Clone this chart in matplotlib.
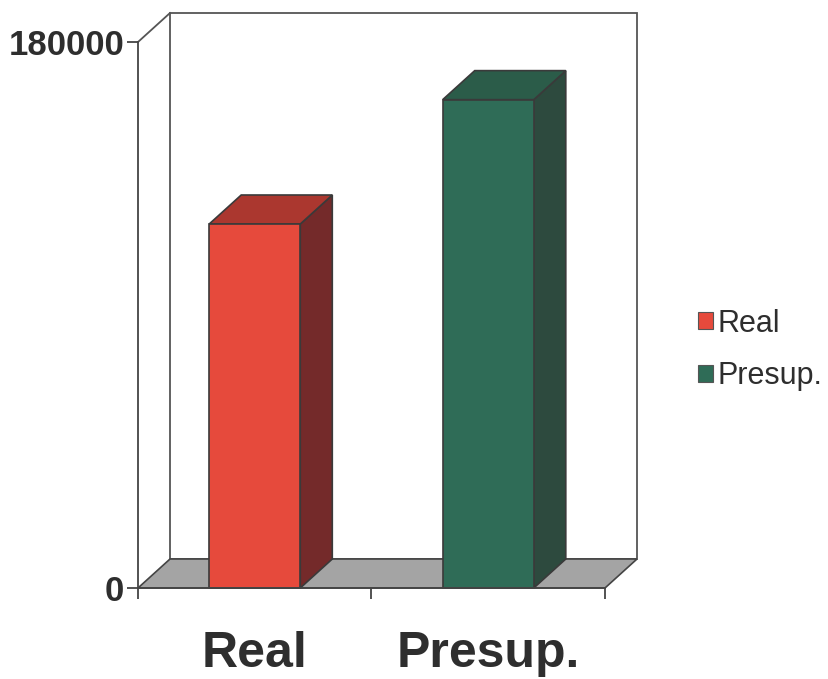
import matplotlib
matplotlib.use("Agg")
import matplotlib.pyplot as plt
from matplotlib.patches import Polygon, Rectangle, Patch

# data
categories = ["Real", "Presup."]
values = [120000, 161000]
y_ticks = [0, 180000]
front_c = ["#e64a3c", "#2f6c57"]
top_c = ["#ab372f", "#2b5c49"]
side_c = ["#742a2a", "#2d4a3e"]

W, H = 829, 679
fig = plt.figure(figsize=(W / 100, H / 100), dpi=100)
fig.patch.set_facecolor("white")
x0, x1, y0, y1 = 138, 605, 42, 588   # front plot box in pixels (from top)
ax = fig.add_axes([x0 / W, 1 - y1 / H, (x1 - x0) / W, (y1 - y0) / H])
ax.set_xlim(0, 2); ax.set_ylim(0, 180000)
ax.patch.set_alpha(0)

# depth offset in data units (32 px right, 29 px up)
DX = 32 * 2 / (x1 - x0)
DY = 29 * 180000 / (y1 - y0)
EC = "#3a3a3a"
FNT = ["Liberation Sans", "DejaVu Sans"]
TXT = "#2e2e2e"

def poly(pts, fc, ec=EC, lw=1.2, z=2):
    ax.add_patch(Polygon(pts, closed=True, fc=fc, ec=ec, lw=lw, zorder=z, clip_on=False))

# back wall and side wall lines
ymax = 180000
poly([(DX, DY), (2 + DX, DY), (2 + DX, ymax + DY), (DX, ymax + DY)], "white", ec="#555555", lw=1.3, z=1)
ax.plot([0, DX], [ymax, ymax + DY], color="#555555", lw=1.3, clip_on=False, zorder=1)
# floor
poly([(0, 0), (2, 0), (2 + DX, DY), (DX, DY)], "#a4a4a4", ec="#444444", lw=1.2, z=1.5)

# bars
width = 0.39
for i, (cat, v) in enumerate(zip(categories, values)):
    xc = i + 0.5
    l, r = xc - width / 2, xc + width / 2
    poly([(r, 0), (r + DX, DY), (r + DX, v + DY), (r, v)], side_c[i], z=3)
    poly([(l, v), (r, v), (r + DX, v + DY), (l + DX, v + DY)], top_c[i], z=3)
    ax.add_patch(Rectangle((l, 0), width, v, fc=front_c[i], ec=EC, lw=1.2, zorder=4, clip_on=False))

# axes
for s in ["top", "right"]:
    ax.spines[s].set_visible(False)
for s in ["left", "bottom"]:
    ax.spines[s].set_color("#444444"); ax.spines[s].set_linewidth(1.3); ax.spines[s].set_zorder(5)
ax.set_yticks(y_ticks)
ax.set_yticklabels([str(t) for t in y_ticks], fontsize=25, fontweight="bold",
                   color=TXT, family=FNT)
ax.set_xticks([0, 1, 2]); ax.set_xticklabels([])
ax.set_xticks([0.5, 1.5], minor=True)
ax.set_xticklabels(categories, minor=True, fontsize=36, fontweight="bold",
                   color=TXT, family=FNT)
ax.tick_params(axis="both", which="major", direction="out", length=8, width=1.3, color="#444444", pad=2)
ax.tick_params(axis="x", which="minor", length=0, pad=31)

# legend
handles = [Patch(fc=c, ec="#555555", lw=0.8) for c in front_c]
fig.legend(handles, categories, loc="center left", bbox_to_anchor=(698 / W, 1 - 350 / H),
           frameon=False, handlelength=0.5, handleheight=0.5, labelcolor=TXT,
           handletextpad=0.15, labelspacing=0.75, borderpad=0, borderaxespad=0,
           prop={"family": FNT, "size": 22})

fig.savefig("out.png", dpi=100)
